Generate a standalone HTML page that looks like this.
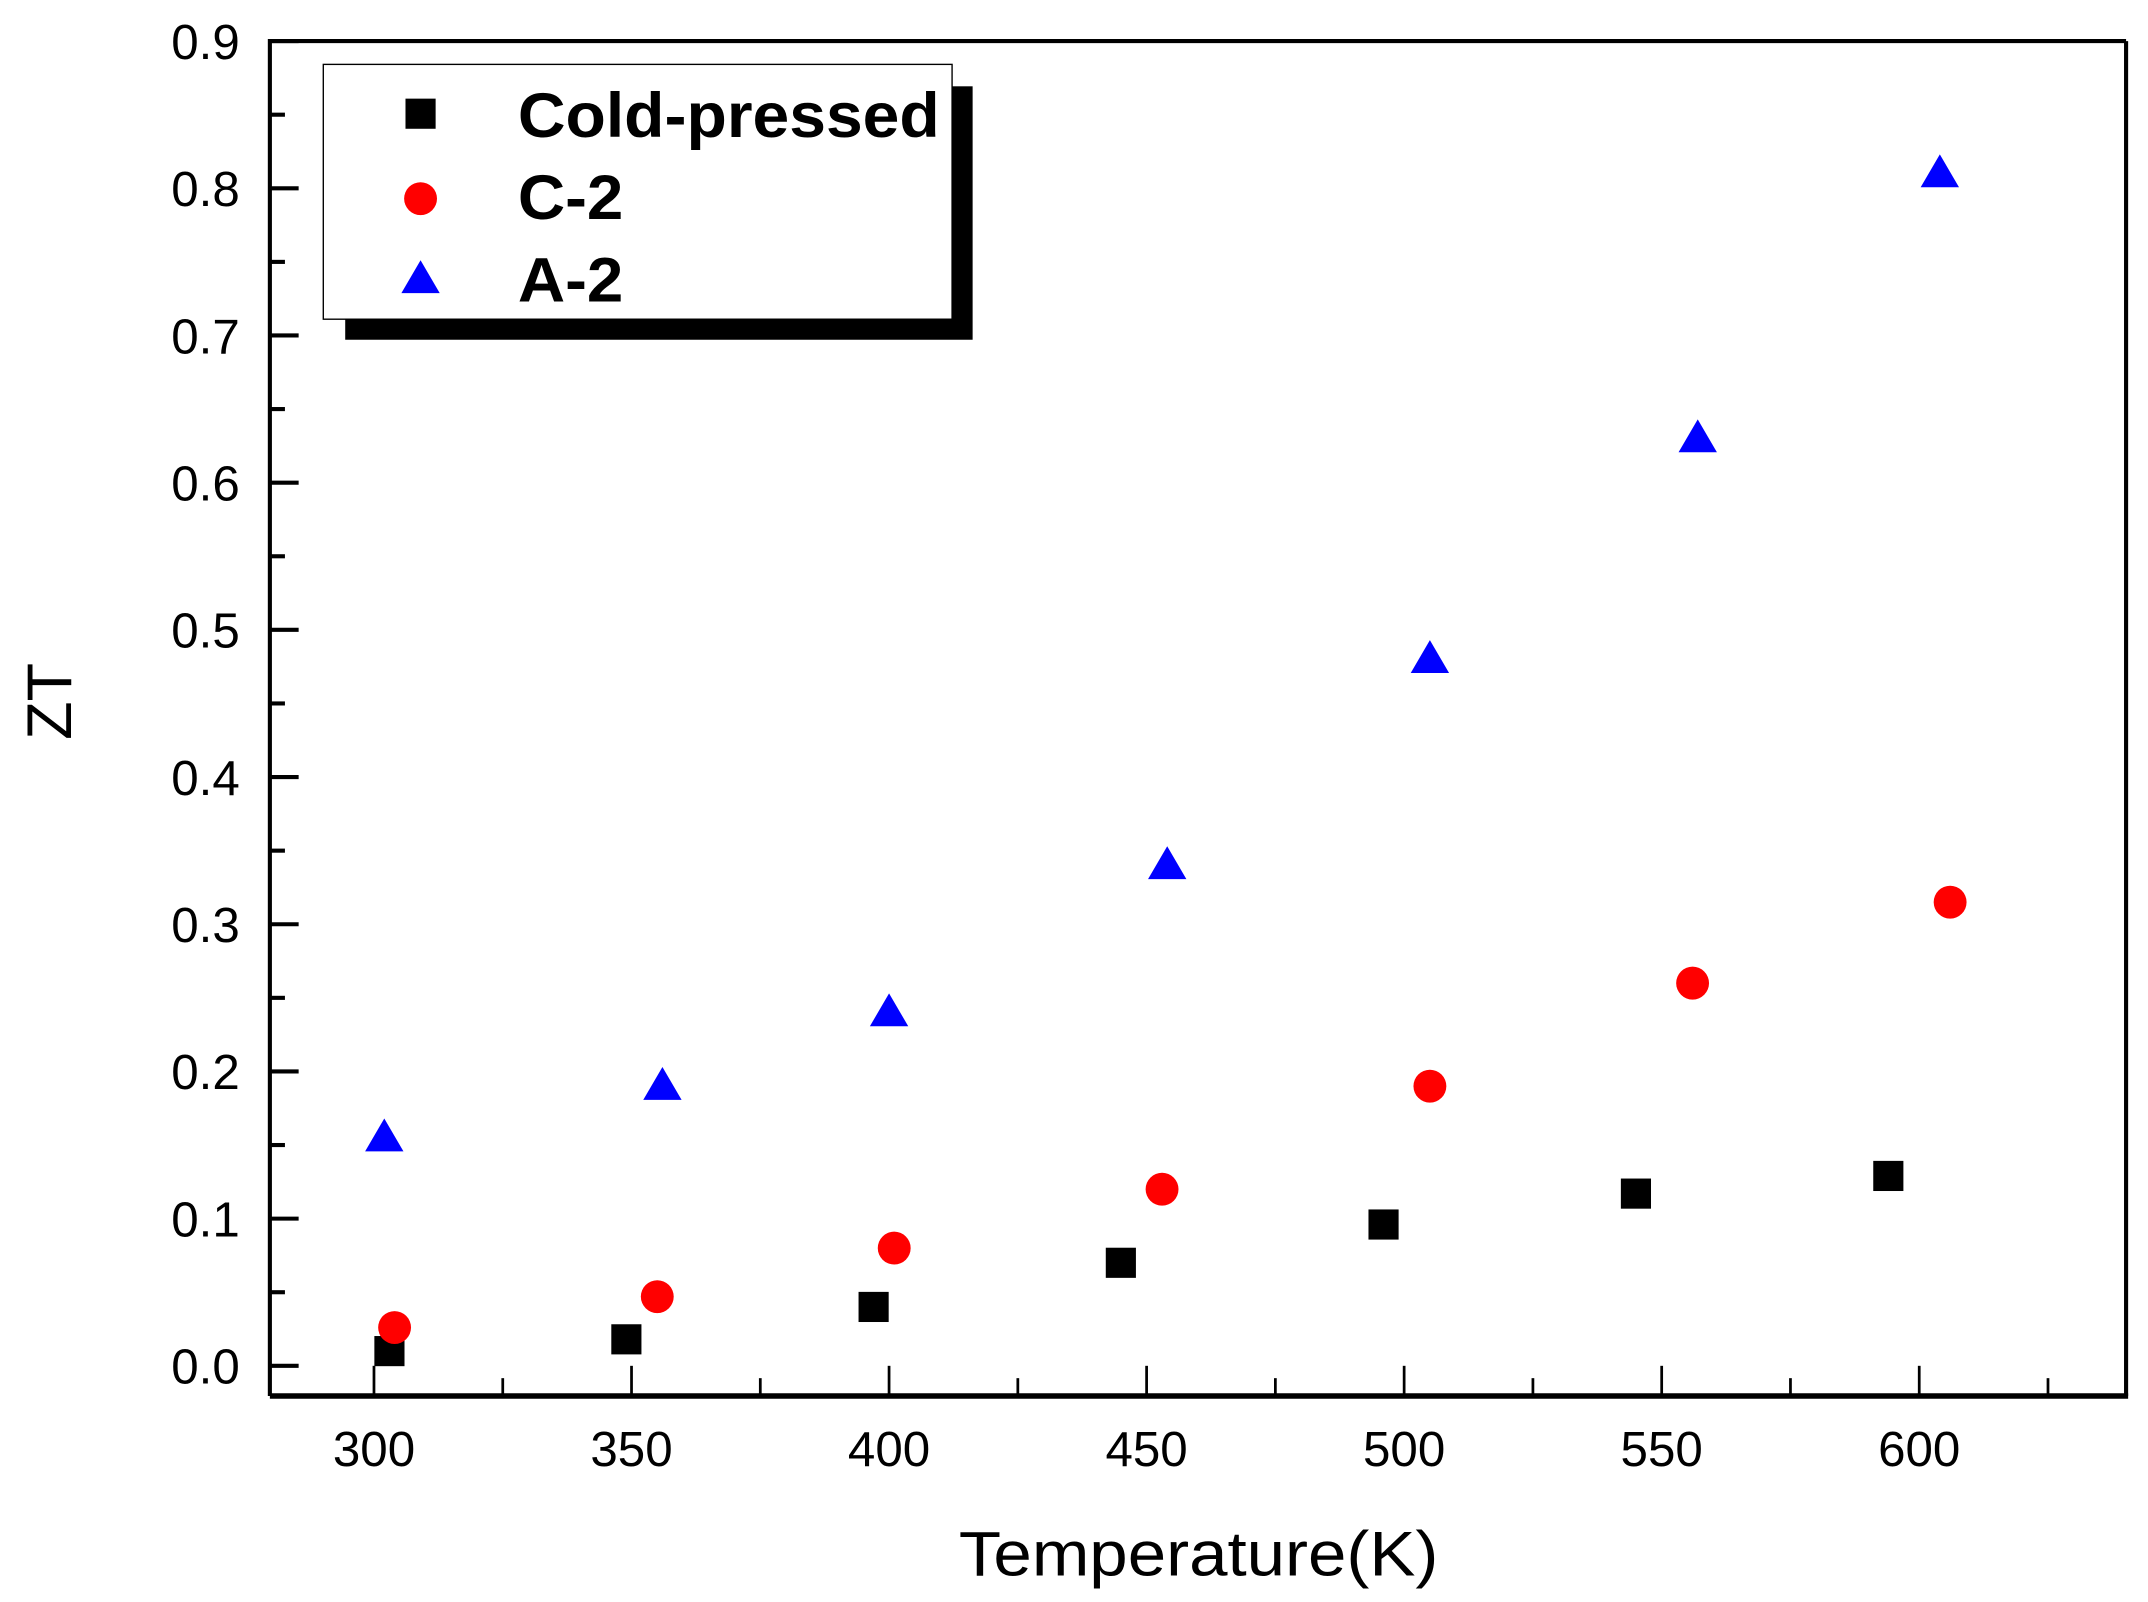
<!DOCTYPE html>
<html><head><meta charset="utf-8"><style>
html,body{margin:0;padding:0;background:#fff;}
svg{display:block;font-family:"Liberation Sans",Arial,sans-serif;}
</style></head><body>
<svg id="chart" width="2148" height="1602" viewBox="0 0 1568 1169.4" preserveAspectRatio="none" xmlns="http://www.w3.org/2000/svg">
<g id="axes"></g>
<g id="marks"></g>
<g id="legend">
  <rect x="252" y="63" width="458" height="185" fill="#000"/>
  <rect x="236" y="47" width="459" height="186" fill="#fff" stroke="#000" stroke-width="1"/>
  <rect x="296" y="72" width="22" height="22" fill="#000"/>
  <circle cx="307" cy="145" r="12" fill="#f00"/>
  <polygon points="307,190 321,214 293,214" fill="#00f"/>
  <text x="378" y="100" font-size="46" font-weight="bold" textLength="308" lengthAdjust="spacingAndGlyphs">Cold-pressed</text>
  <text x="378" y="160" font-size="46" font-weight="bold" textLength="77" lengthAdjust="spacingAndGlyphs">C-2</text>
  <text x="378" y="220" font-size="46" font-weight="bold" textLength="77" lengthAdjust="spacingAndGlyphs">A-2</text>
</g>
<text x="700" y="1150" font-size="46" textLength="350" lengthAdjust="spacingAndGlyphs">Temperature(K)</text>
<text x="0" y="0" font-size="46" text-anchor="middle" transform="translate(52,512) rotate(-90)">ZT</text>
</svg>
<script>
const xTicks = [300, 350, 400, 450, 500, 550, 600];
const yTicks = [0.0, 0.1, 0.2, 0.3, 0.4, 0.5, 0.6, 0.7, 0.8, 0.9];
const coldT = [303, 349, 397, 445, 496, 545, 594];
const coldZT = [0.010, 0.018, 0.040, 0.070, 0.096, 0.117, 0.129];
const c2T = [304, 355, 401, 453, 505, 556, 606];
const c2ZT = [0.026, 0.047, 0.080, 0.120, 0.190, 0.260, 0.315];
const a2T = [302, 356, 400, 454, 505, 557, 604];
const a2ZT = [0.155, 0.190, 0.240, 0.340, 0.480, 0.630, 0.810];

const NS = "http://www.w3.org/2000/svg";
const L = 197, R = 1552, T = 30, B = 1019;
function xs(v){ return 273 + (v - 300) * (1401 - 273) / 300; }
function ys(v){ return 997 - v * (997 - 30) / 0.9; }
function mk(tag, attrs, parent){
  const e = document.createElementNS(NS, tag);
  for (const k in attrs) e.setAttribute(k, attrs[k]);
  parent.appendChild(e);
  return e;
}
const ax = document.getElementById('axes');
const mg = document.getElementById('marks');
let e;
e = mk('line', {x1:L, y1:T, x2:R, y2:T, stroke:'#000', 'stroke-width':3}, ax);


e = mk('line', {x1:R, y1:T, x2:R, y2:B, stroke:'#000', 'stroke-width':3}, ax);


e = mk('line', {x1:L, y1:T-1.5, x2:L, y2:B, stroke:'#000', 'stroke-width':3}, ax);


e = mk('line', {x1:L, y1:B, x2:R+1.5, y2:B, stroke:'#000', 'stroke-width':4}, ax);


for (let i = 0; i < xTicks.length; i++) {
  const v = xTicks[i], x = xs(v);
  e = mk('line', {x1:x, y1:B, x2:x, y2:B-22, stroke:'#000', 'stroke-width':2}, ax);
  
  
  e = mk('text', {x:x, y:1070, 'font-size':36, 'text-anchor':'middle'}, ax);
  e.textContent = v;
  
  
  const mx = xs(v + 25);
  e = mk('line', {x1:mx, y1:B, x2:mx, y2:B-13, stroke:'#000', 'stroke-width':2}, ax);
  
  
}
for (let i = 0; i < yTicks.length; i++) {
  const v = yTicks[i], y = ys(v);
  e = mk('line', {x1:L, y1:y, x2:L+21, y2:y, stroke:'#000', 'stroke-width':3}, ax);
  
  
  e = mk('text', {x:175, y:y+13, 'font-size':36, 'text-anchor':'end'}, ax);
  e.textContent = v.toFixed(1);
  
  
  if (i < yTicks.length - 1) {
    const my = ys(v + 0.05);
    e = mk('line', {x1:L, y1:my, x2:L+11, y2:my, stroke:'#000', 'stroke-width':3}, ax);
    
    
  }
}
for (let i = 0; i < coldT.length; i++) {
  const x = xs(coldT[i]), y = ys(coldZT[i]);
  e = mk('rect', {x:x-11, y:y-11, width:22, height:22, fill:'#000'}, mg);
  
  
}
for (let i = 0; i < c2T.length; i++) {
  const x = xs(c2T[i]), y = ys(c2ZT[i]);
  e = mk('circle', {cx:x, cy:y, r:12, fill:'#f00'}, mg);
  
  
}
for (let i = 0; i < a2T.length; i++) {
  const x = xs(a2T[i]), y = ys(a2ZT[i]);
  e = mk('polygon', {points:(x)+','+(y-14)+' '+(x+14)+','+(y+10)+' '+(x-14)+','+(y+10), fill:'#00f'}, mg);
  
  
}
</script>
</body></html>
